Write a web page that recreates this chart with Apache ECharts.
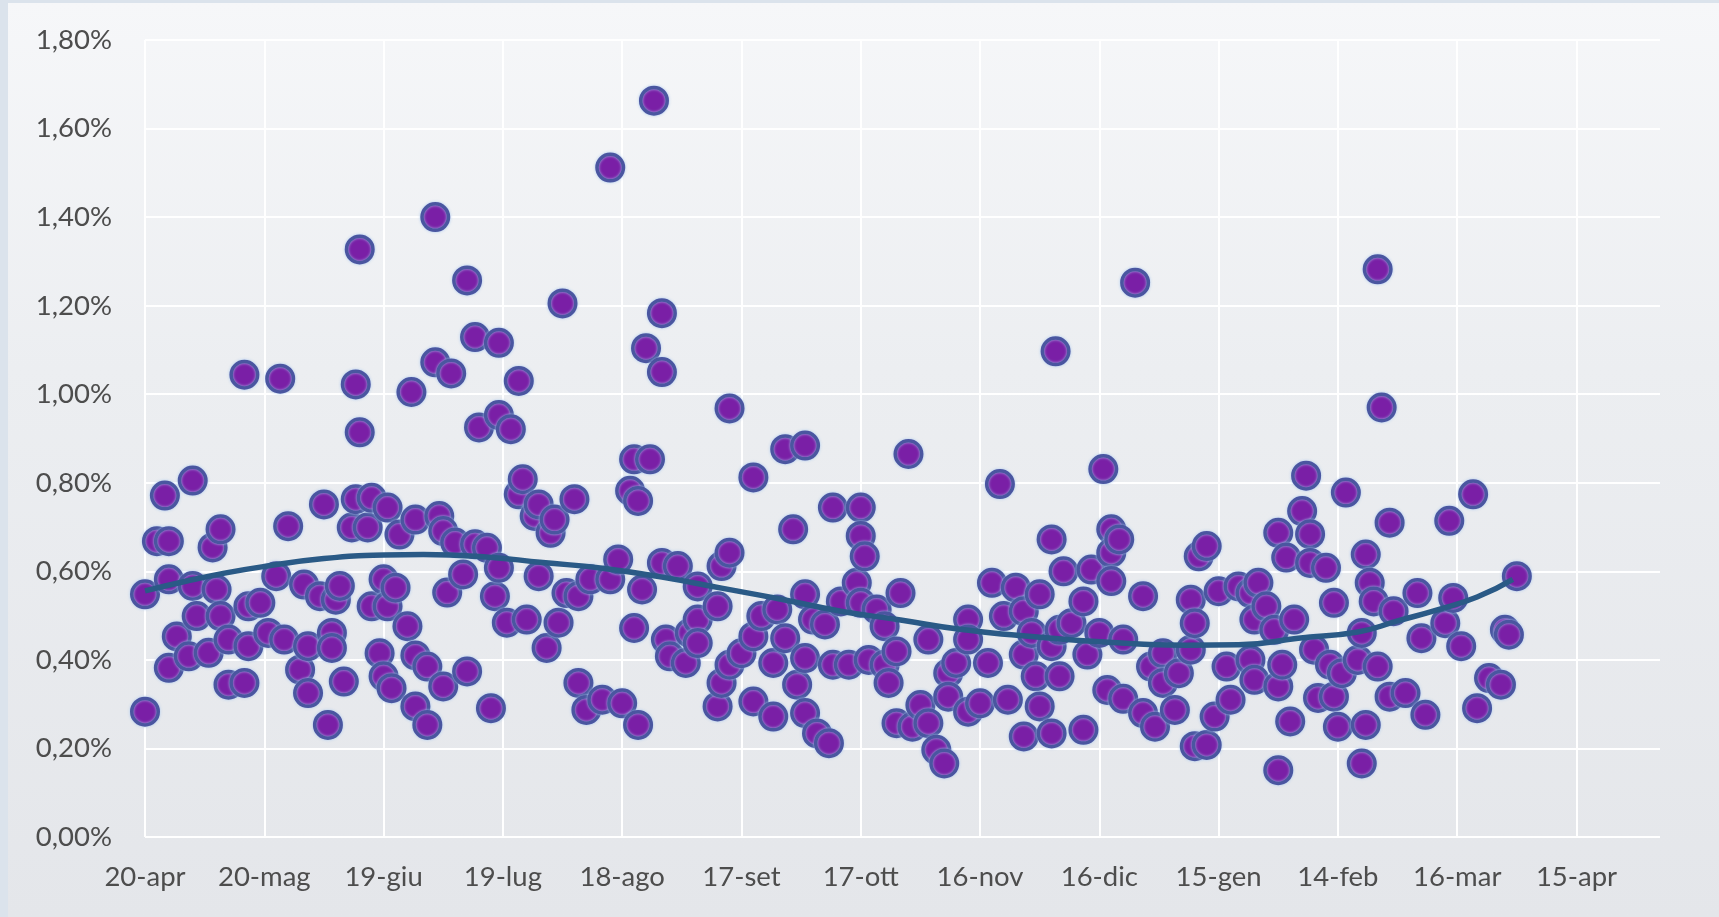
<!DOCTYPE html>
<html><head><meta charset="utf-8">
<script src="https://cdn.jsdelivr.net/npm/echarts@6/dist/echarts.min.js"></script>
<style>
html,body{margin:0;padding:0;width:1719px;height:917px;overflow:hidden;background:#dbe3ec;}
#frame{position:absolute;left:8px;top:3px;right:0;bottom:0;background:linear-gradient(to bottom,#f6f7f9 0%,#eceef1 40%,#e4e6ea 100%);}
#chart{position:absolute;left:0;top:0;width:1719px;height:917px;}
</style></head><body>
<div id="frame"></div><div id="chart"></div>
<script>
// x tick labels (every 30 days starting 20-apr)
const xTickLabels = ['20-apr','20-mag','19-giu','19-lug','18-ago','17-set','17-ott','16-nov','16-dic','15-gen','14-feb','16-mar','15-apr'];
// days since 20-apr
const dayOffsets = [
 0,0,3,5,6,6,6,8,11,12,12,13,16,17,18,19,19,21,21,25,25,26,26,29,31,34,
 33,35,36,39,40,41,41,44,45,46,47,47,48,49,50,52,53,53,54,54,56,57,57,59,60,60,61,61,62,63,64,66,68,68,68,
 67,71,71,73,73,74,75,75,76,77,78,80,81,81,83,83,84,86,87,88,89,89,89,91,92,94,94,95,96,98,99,99,101,102,103,104,
 105,106,108,109,109,111,112,115,117,117,119,120,122,123,123,124,124,125,126,127,128,130,130,130,131,132,134,136,137,139,139,
 139,144,144,145,145,147,147,147,150,153,153,153,155,158,158,159,161,161,163,164,166,166,166,166,168,169,171,172,173,173,
 175,177,179,180,180,180,181,182,184,186,186,187,189,189,190,192,193,195,197,197,199,201,202,202,204,207,207,207,
 210,212,213,215,216,217,219,221,221,221,223,224,225,225,228,228,228,229,230,230,231,233,236,236,237,238,240,241,242,243,243,243,245,
 246,246,249,251,251,253,254,256,256,259,260,263,263,264,264,265,267,267,269,270,272,273,275,278,278,279,279,
 280,282,284,285,285,285,286,287,288,289,291,292,293,293,294,295,297,298,299,299,300,301,302,305,306,306,307,307,308,309,310,310,311,313,313,314,
 317,320,321,322,327,328,329,331,334,335,338,341,342,343,345
];
// daily value, percent
const rates = [
 0.283,0.548,0.668,0.771,0.668,0.582,0.382,0.453,0.408,0.805,0.567,0.499,0.416,0.654,0.559,0.695,0.499,0.446,0.344,0.348,1.044,0.521,0.431,0.529,0.461,1.035,
 0.589,0.446,0.702,0.378,0.570,0.431,0.325,0.544,0.751,0.253,0.461,0.427,0.536,0.567,0.351,0.699,0.763,1.022,0.914,1.327,0.699,0.766,0.521,0.415,0.582,0.363,0.744,0.521,0.336,0.563,0.683,0.476,0.717,0.410,0.295,
 1.005,0.385,0.253,1.400,1.072,0.725,0.691,0.340,0.552,1.047,0.665,0.593,0.374,1.257,0.661,1.129,0.925,0.653,0.291,0.544,0.608,1.116,0.953,0.484,0.921,0.774,1.030,0.808,0.491,0.725,0.751,0.589,0.427,0.687,0.717,0.484,
 1.205,0.551,0.763,0.544,0.348,0.287,0.582,0.310,0.582,1.512,0.627,0.302,0.782,0.853,0.472,0.759,0.253,0.559,1.104,0.853,1.663,1.183,1.050,0.619,0.446,0.408,0.612,0.393,0.461,0.566,0.491,
 0.438,0.521,0.295,0.612,0.348,0.642,0.389,0.968,0.415,0.812,0.453,0.306,0.499,0.393,0.272,0.514,0.876,0.449,0.695,0.344,0.884,0.548,0.404,0.280,0.491,0.234,0.480,0.212,0.744,0.389,
 0.532,0.389,0.574,0.744,0.680,0.529,0.634,0.400,0.514,0.476,0.389,0.348,0.419,0.257,0.551,0.865,0.249,0.298,0.446,0.257,0.197,0.166,0.370,0.317,0.393,0.491,0.446,0.283,
 0.302,0.393,0.574,0.797,0.499,0.310,0.563,0.510,0.412,0.227,0.461,0.363,0.548,0.295,0.672,0.431,0.234,1.097,0.468,0.363,0.600,0.483,0.532,0.242,0.412,0.604,0.461,0.831,0.332,0.695,0.642,0.578,0.672,
 0.446,0.312,1.252,0.544,0.280,0.385,0.249,0.415,0.348,0.287,0.370,0.536,0.423,0.483,0.205,0.634,0.657,0.208,0.272,0.555,0.385,0.310,0.566,0.551,0.400,0.491,0.355,
 0.574,0.521,0.468,0.687,0.340,0.151,0.389,0.631,0.261,0.491,0.736,0.816,0.684,0.619,0.423,0.314,0.608,0.389,0.529,0.317,0.249,0.370,0.778,0.400,0.461,0.166,0.638,0.253,0.574,0.532,1.282,0.385,0.970,0.710,0.317,0.510,
 0.325,0.551,0.449,0.276,0.483,0.714,0.540,0.431,0.774,0.291,0.359,0.344,0.468,0.457,0.589
];
// polynomial trend line
const trendDays = [0,10,20,30,45,60,70,85,100,115,130,145,160,175,190,205,220,235,250,262,275,290,305,315,325,335,344];
const trendRates = [0.556,0.577,0.596,0.611,0.629,0.637,0.638,0.633,0.620,0.607,0.587,0.562,0.537,0.510,0.490,0.469,0.455,0.444,0.436,0.433,0.434,0.449,0.463,0.488,0.513,0.542,0.582];

const chart = echarts.init(document.getElementById('chart'), null, {renderer:'canvas'});
const labelStyle = {fontFamily:'Lato', fontSize:27.5, color:'#4d4d4d'};
chart.setOption({
  animation:false,
  backgroundColor:'transparent',
  grid:{left:145, right:59, top:40, bottom:80, containLabel:false},
  xAxis:{
    type:'value', min:0, max:381, interval:30,
    axisLine:{show:false}, axisTick:{show:false},
    splitLine:{show:true, showMaxLine:false, lineStyle:{color:'#ffffff', width:2}},
    axisLabel:Object.assign({margin:26, showMaxLabel:false, formatter:function(v){
      const i = Math.round(v/30);
      return (Math.abs(v - i*30) < 1e-6 && i < xTickLabels.length) ? xTickLabels[i] : '';
    }}, labelStyle)
  },
  yAxis:{
    type:'value', min:0, max:1.8, interval:0.2,
    axisLine:{show:false}, axisTick:{show:false},
    splitLine:{show:true, lineStyle:{color:'#ffffff', width:2}},
    axisLabel:Object.assign({margin:33, formatter:function(v){ return v.toFixed(2).replace('.', ',') + '%'; }}, labelStyle)
  },
  series:[
    {
      type:'scatter',
      data:dayOffsets.map(function(d,i){ return [d, rates[i]]; }),
      symbol:'circle', symbolSize:26.5,
      itemStyle:{color:'#7a1fa6', borderColor:'#4a56a0', borderWidth:3.5, shadowBlur:3, shadowColor:'rgba(170,200,240,0.9)', opacity:1},
      z:2
    },
    {
      type:'line',
      data:trendDays.map(function(d,i){ return [d, trendRates[i]]; }),
      smooth:0.5, symbol:'none',
      lineStyle:{color:'#2a5a86', width:5.5},
      z:3
    }
  ]
});
</script>
</body></html>
